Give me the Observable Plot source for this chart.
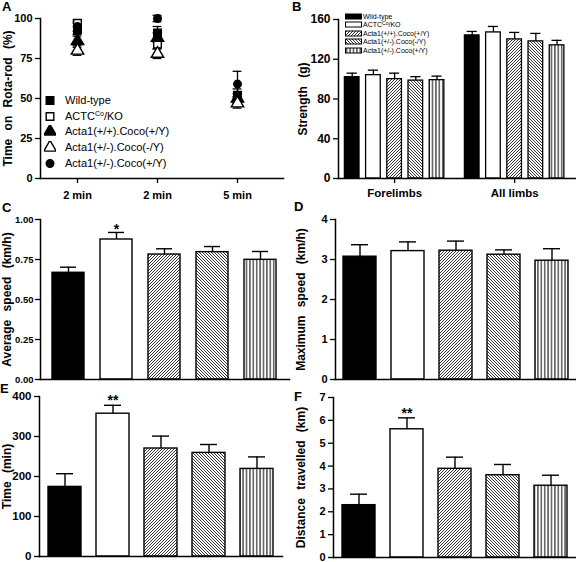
<!DOCTYPE html>
<html><head><meta charset="utf-8">
<script src="https://cdn.jsdelivr.net/npm/d3@7"></script>
<script src="https://cdn.jsdelivr.net/npm/@observablehq/plot@0.6"></script>
<style>
body{margin:0;background:#fff;}
#root{position:relative;width:576px;height:562px;overflow:hidden;font-family:"Liberation Sans",Arial,sans-serif;color:#000;}
.letter{position:absolute;font-weight:bold;font-size:13px;line-height:13px;}
g[aria-label="y-axis label"], g[aria-label="y-axis label"] text{font-size:12px;word-spacing:5px;}
.legA{position:absolute;left:44px;top:92px;font-size:11px;}
.legA .row{height:15.8px;display:flex;align-items:center;white-space:nowrap;}
.legA sup{font-size:7px;line-height:0;vertical-align:4px;}
.legB{position:absolute;left:345px;top:12px;font-size:7px;}
.legB .row{height:8.5px;display:flex;align-items:center;white-space:nowrap;}
.legB sup{font-size:5px;line-height:0;vertical-align:2px;}
</style></head>
<body><div id="root"></div>
<script>
// ---------- data ----------
const genotypes = ["Wild-type", "ACTC^Co/KO", "Acta1(+/+).Coco(+/Y)", "Acta1(+/-).Coco(-/Y)", "Acta1(+/-).Coco(+/Y)"];

// A: rota-rod
const rotarodTimes = ["2 min", "2 min", "5 min"];
const rotarodWT = [93, 91, 52];
const rotarodWTErr = [4, 4, 4];
const rotarodACTC = [97, 84, 48];
const rotarodACTCErr = [2, 3, 3];
const rotarodActaPP = [86, 88, 50];
const rotarodActaPPErr = [4, 3, 3];
const rotarodActaPMminus = [80, 78, 47];
const rotarodActaPMminusErr = [3, 3, 3];
const rotarodActaPMplus = [95, 100, 59];
const rotarodActaPMplusErr = [3, 2, 8];

// B: strength
const strengthGroups = ["Forelimbs", "All limbs"];
const strengthForelimbs = [102, 104, 100, 98.5, 99];
const strengthForelimbsErr = [4, 5, 6, 4, 4];
const strengthAllLimbs = [144, 147, 140, 138, 134];
const strengthAllLimbsErr = [4, 6, 7, 8, 5];

// C: average speed
const avgSpeed = [0.667, 0.875, 0.781, 0.796, 0.748];
const avgSpeedErr = [0.035, 0.044, 0.036, 0.035, 0.052];
const avgSpeedSig = ["", "*", "", "", ""];

// D: maximum speed
const maxSpeed = [3.07, 3.21, 3.22, 3.12, 2.97];
const maxSpeedErr = [0.30, 0.23, 0.24, 0.12, 0.30];

// E: time
const runTime = [174, 357, 270, 259, 219];
const runTimeErr = [33, 21, 31, 21, 30];
const runTimeSig = ["", "**", "", "", ""];

// F: distance
const distance = [2.29, 5.61, 3.88, 3.6, 3.14];
const distanceErr = [0.48, 0.5, 0.51, 0.47, 0.46];
const distanceSig = ["", "**", "", "", ""];

// ---------- styles ----------
const genotypeFills = ["black", "white", "url(#hatchUp)", "url(#hatchDown)", "url(#vLines)"];
const symbolNames = ["square", "square", "triangle", "triangle", "circle"];
const symbolFilled = [true, false, true, false, true];
const symbolR = [4.3, 4.3, 4.6, 4.6, 3.8];
const baseStyle = (fs = "11px") => ({fontFamily: '"Liberation Sans", Arial, sans-serif', fontSize: fs, fontWeight: "bold", background: "transparent", color: "black", overflow: "visible"});

const root = d3.select("#root");

// patterns
const defsSvg = root.append("svg").attr("width", 0).attr("height", 0).style("position", "absolute").style("left", 0).style("top", 0);
const defs = defsSvg.append("defs");
function pattern(id, w, h, d, sw) {
  const p = defs.append("pattern").attr("id", id).attr("patternUnits", "userSpaceOnUse").attr("width", w).attr("height", h);
  p.append("rect").attr("width", w).attr("height", h).attr("fill", "white");
  p.append("path").attr("d", d).attr("stroke", "black").attr("stroke-width", sw).attr("fill", "none");
}
pattern("hatchUp", 3, 3, "M-1,1L1,-1M0,3L3,0M2,4L4,2", 0.8);
pattern("hatchDown", 3, 3, "M-1,2L1,4M0,0L3,3M2,-1L4,1", 0.8);
pattern("vLines", 3.4, 4, "M1.7,0L1.7,4", 1);

function place(el, left, top) {
  el.style.position = "absolute";
  el.style.left = left + "px";
  el.style.top = top + "px";
  el.style.maxWidth = "none";
  root.node().appendChild(el);
}
function letter(t, left, top) {
  root.append("div").attr("class", "letter").style("left", left + "px").style("top", top + "px").text(t);
}
const richName = s => s.replace(/\^(\w+)/, "<sup>$1</sup>");

// ---------- A ----------
const rotaSeries = [rotarodWT, rotarodACTC, rotarodActaPP, rotarodActaPMminus, rotarodActaPMplus];
const rotaErrs = [rotarodWTErr, rotarodACTCErr, rotarodActaPPErr, rotarodActaPMminusErr, rotarodActaPMplusErr];
const rotaRows = rotaSeries.flatMap((vals, gi) => vals.map((m, t) => ({gi, t, m, e: rotaErrs[gi][t]})));
const plotA = Plot.plot({
  width: 288, height: 202, marginLeft: 40, marginRight: 5, marginTop: 18, marginBottom: 24,
  style: baseStyle("11px"),
  x: {domain: [-0.4625, 2.575]},
  y: {domain: [0, 100]},
  marks: [
    Plot.ruleX(rotaRows, {x: "t", y1: d => d.m - d.e, y2: d => d.m + d.e, strokeWidth: 1.3}),
    Plot.ruleY(rotaRows, {y: d => d.m + d.e, x1: d => d.t - 0.055, x2: d => d.t + 0.055, strokeWidth: 1.3}),
    Plot.ruleY(rotaRows, {y: d => d.m - d.e, x1: d => d.t - 0.055, x2: d => d.t + 0.055, strokeWidth: 1.3}),
    ...genotypes.map((g, gi) => Plot.dot(rotaRows.filter(d => d.gi === gi), {
      x: "t", y: "m", symbol: symbolNames[gi], r: symbolR[gi],
      fill: symbolFilled[gi] ? "black" : "white", stroke: "black", strokeWidth: 1.4
    })),
    Plot.axisY({ticks: [0, 25, 50, 75, 100], tickSize: 5, tickPadding: 3, strokeWidth: 1.3,
      label: "Time on Rota-rod (%)", labelAnchor: "center", labelArrow: "none", labelOffset: 37}),
    Plot.axisX({ticks: [0, 1, 2], tickFormat: v => rotarodTimes[Math.round(v)], tickSize: 5, tickPadding: 8, strokeWidth: 1.3, label: null}),
    Plot.frame({anchor: "left", strokeWidth: 1.5}),
    Plot.frame({anchor: "bottom", strokeWidth: 1.5})
  ]
});
place(plotA, 0, 0);

// legend A
const legA = root.append("div").attr("class", "legA");
genotypes.forEach((g, gi) => {
  const row = legA.append("div").attr("class", "row");
  const s = row.append("svg").attr("width", 12).attr("height", 12);
  const type = {square: d3.symbolSquare, triangle: d3.symbolTriangle, circle: d3.symbolCircle}[symbolNames[gi]];
  s.append("path").attr("transform", "translate(6,6.5)")
    .attr("d", d3.symbol(type, Math.PI * symbolR[gi] * symbolR[gi])())
    .attr("fill", symbolFilled[gi] ? "black" : "white").attr("stroke", "black").attr("stroke-width", 1.4);
  row.append("span").style("margin-left", "9px").html(richName(g));
});

// ---------- B ----------
const groupGap = 5.66;
const strengthSeries = [strengthForelimbs, strengthAllLimbs];
const strengthErrs = [strengthForelimbsErr, strengthAllLimbsErr];
const strRows = strengthSeries.flatMap((vals, g) => vals.map((m, i) => ({g, i, pos: g * groupGap + i, m, e: strengthErrs[g][i]})));
const plotB = Plot.plot({
  width: 288, height: 202, marginLeft: 50, marginRight: 1, marginTop: 19, marginBottom: 24,
  style: baseStyle("11.5px"),
  x: {domain: [-0.646, 10.53]},
  y: {domain: [0, 160]},
  color: {type: "identity"},
  marks: [
    Plot.ruleX(strRows, {x: "pos", y1: "m", y2: d => d.m + d.e, strokeWidth: 1.3}),
    Plot.ruleY(strRows, {y: d => d.m + d.e, x1: d => d.pos - 0.24, x2: d => d.pos + 0.24, strokeWidth: 1.3}),
    Plot.rectY(strRows, {x1: d => d.pos - 0.345, x2: d => d.pos + 0.345, y1: 0, y2: "m", fill: d => genotypeFills[d.i], stroke: "black", strokeWidth: 1.3}),
    Plot.axisY({ticks: [0, 40, 80, 120, 160], tickSize: 5, tickPadding: 3, strokeWidth: 1.3, fontSize: 12,
      label: "Strength (g)", labelAnchor: "center", labelArrow: "none", labelOffset: 40}),
    Plot.axisX({ticks: strengthGroups.map((_, g) => g * groupGap + 2), tickFormat: v => strengthGroups[Math.round((v - 2) / groupGap)],
      tickSize: 5, tickPadding: 5, strokeWidth: 1.3, label: null}),
    Plot.frame({anchor: "left", strokeWidth: 1.5}),
    Plot.frame({anchor: "bottom", strokeWidth: 1.5})
  ]
});
place(plotB, 288, 0);

// legend B
const legB = root.append("div").attr("class", "legB");
genotypes.forEach((g, gi) => {
  const row = legB.append("div").attr("class", "row");
  const s = row.append("svg").attr("width", 17).attr("height", 7);
  s.append("rect").attr("x", 0.5).attr("y", 1).attr("width", 16).attr("height", 5)
    .attr("fill", genotypeFills[gi]).attr("stroke", "black").attr("stroke-width", 1);
  row.append("span").style("margin-left", "1px").html(richName(g));
});

// ---------- C-F ----------
function barPanel(o) {
  const rows = o.means.map((m, i) => ({g: genotypes[i], i, m, e: o.errs[i], s: o.sig ? o.sig[i] : ""}));
  return Plot.plot({
    width: o.width, height: o.height,
    marginLeft: o.mL, marginRight: o.mR, marginTop: o.mT, marginBottom: o.mB,
    style: baseStyle(o.tickFont),
    x: {type: "band", domain: genotypes, paddingInner: o.pi, paddingOuter: o.po, axis: null},
    y: {domain: o.yDomain},
    color: {type: "identity"},
    marks: [
      Plot.ruleX(rows, {x: "g", y1: "m", y2: d => d.m + d.e, strokeWidth: 1.4}),
      Plot.tickY(rows, {x: "g", y: d => d.m + d.e, insetLeft: 8, insetRight: 8, strokeWidth: 1.4}),
      Plot.barY(rows, {x: "g", y: "m", fill: d => genotypeFills[d.i], stroke: "black", strokeWidth: 1.4}),
      Plot.text(rows, {x: "g", y: d => d.m + d.e, text: "s", dy: o.sigDy, fontSize: 14, fontWeight: "bold"}),
      Plot.axisY({ticks: o.ticks, tickFormat: o.fmt, tickSize: 5, tickPadding: o.tickPad, strokeWidth: 1.3,
        label: o.label, labelAnchor: "center", labelArrow: "none", labelOffset: o.labelOffset}),
      Plot.frame({anchor: "left", strokeWidth: 1.5}),
      Plot.frame({anchor: "bottom", strokeWidth: 1.5})
    ]
  });
}

place(barPanel({width: 290, height: 183, mL: 40, mR: 1, mT: 19, mB: 4, pi: 0.333, po: 0.25, tickFont: "9.5px", tickPad: 2,
  means: avgSpeed, errs: avgSpeedErr, sig: avgSpeedSig, sigDy: -3, yDomain: [0, 1],
  ticks: [0, 0.25, 0.5, 0.75, 1], fmt: d3.format(".2f"), label: "Average speed (km/h)", labelOffset: 38}), 0, 200);

place(barPanel({width: 288, height: 183, mL: 47, mR: 1, mT: 19, mB: 4, pi: 0.32, po: 0.14, tickFont: "11px", tickPad: 3,
  means: maxSpeed, errs: maxSpeedErr, sig: null, sigDy: -3, yDomain: [0, 4],
  ticks: [0, 1, 2, 3, 4], fmt: d3.format("d"), label: "Maximum speed (km/h)", labelOffset: 39}), 288, 200);

place(barPanel({width: 290, height: 179, mL: 39, mR: 8, mT: 13, mB: 6, pi: 0.32, po: 0.15, tickFont: "11.5px", tickPad: 3,
  means: runTime, errs: runTimeErr, sig: runTimeSig, sigDy: -5, yDomain: [0, 400],
  ticks: [0, 100, 200, 300, 400], fmt: d3.format("d"), label: "Time (min)", labelOffset: 37}), 0, 383);

place(barPanel({width: 288, height: 179, mL: 45, mR: 1, mT: 14, mB: 5, pi: 0.32, po: 0.16, tickFont: "11px", tickPad: 3,
  means: distance, errs: distanceErr, sig: distanceSig, sigDy: -4, yDomain: [0, 7],
  ticks: [0, 1, 2, 3, 4, 5, 6, 7], fmt: d3.format("d"), label: "Distance travelled (km)", labelOffset: 37}), 288, 383);

// panel letters
letter("A", 2, 0);
letter("B", 292, 0);
letter("C", 2, 201);
letter("D", 294, 200);
letter("E", 0, 382);
letter("F", 294, 390);
</script>
</body></html>
